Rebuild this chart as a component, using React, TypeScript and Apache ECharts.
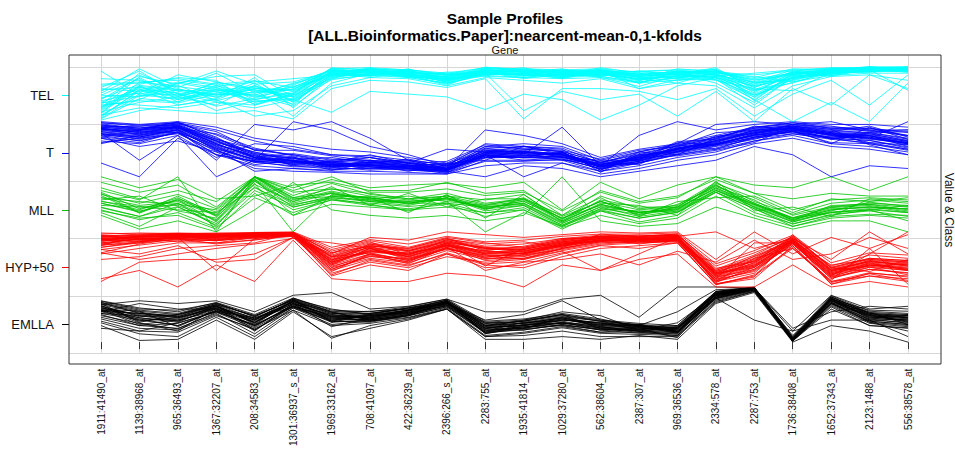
import React, { useEffect, useRef } from 'react';
import * as echarts from 'echarts';

// Gene probes along the x axis
const genes = [
  '1911:41490_at', '1139:38968_at', '965:36493_at', '1367:32207_at', '208:34583_at',
  '1301:36937_s_at', '1969:33162_at', '708:41097_at', '422:36239_at', '2396:266_s_at',
  '2283:755_at', '1935:41814_at', '1029:37280_at', '562:38604_at', '2387:307_at',
  '969:36536_at', '2334:578_at', '2287:753_at', '1736:38408_at', '1652:37343_at',
  '2123:1488_at', '556:38578_at',
];

// Classes from bottom panel to top panel
const classes = ['EMLLA', 'HYP+50', 'MLL', 'T', 'TEL'];
const classColors = ['#000000', '#ff0000', '#00c400', '#0000ff', '#00ffff'];

// Scaled expression profiles (0..100 within each class band)
const emllaProfiles = [
  [65, 48, 45, 62, 40, 74, 50, 45, 58, 72, 30, 34, 44, 32, 30, 22, 88, 98, 5, 80, 48, 42],
  [55, 42, 30, 58, 28, 68, 40, 48, 52, 66, 18, 26, 36, 28, 20, 25, 82, 96, 3, 72, 40, 36],
  [72, 58, 52, 70, 48, 76, 56, 52, 62, 76, 34, 38, 48, 38, 32, 18, 90, 99, 8, 78, 52, 48],
  [50, 30, 34, 55, 32, 64, 36, 40, 48, 68, 22, 22, 32, 22, 24, 28, 80, 95, 2, 70, 38, 32],
  [75, 62, 55, 72, 50, 80, 58, 55, 64, 78, 38, 42, 52, 42, 28, 30, 92, 100, 10, 84, 56, 52],
  [42, 25, 22, 50, 22, 62, 32, 38, 45, 62, 12, 18, 28, 18, 18, 12, 76, 93, 2, 66, 34, 28],
  [30, 3, 5, 40, 5, 55, 10, 25, 40, 60, 5, 5, 10, 5, 12, 5, 70, 90, 0, 30, 20, 0],
  [62, 50, 40, 65, 36, 70, 48, 44, 56, 72, 28, 30, 40, 35, 22, 24, 86, 97, 6, 76, 46, 40],
  [68, 75, 70, 75, 55, 85, 90, 60, 65, 78, 55, 55, 78, 85, 45, 100, 100, 98, 20, 85, 60, 65],
  [58, 44, 38, 60, 38, 70, 42, 42, 54, 70, 25, 32, 42, 28, 26, 20, 84, 97, 4, 74, 44, 38],
  [72, 52, 48, 68, 42, 74, 52, 48, 58, 72, 30, 34, 44, 34, 28, 24, 88, 98, 6, 78, 50, 44],
  [45, 30, 25, 52, 15, 62, 38, 38, 48, 64, 18, 22, 32, 22, 16, 16, 78, 94, 3, 70, 38, 32],
  [35, 15, 10, 45, 10, 58, 7, 30, 42, 60, 10, 12, 20, 10, 10, 10, 72, 92, 2, 60, 30, 25],
  [64, 38, 44, 64, 44, 72, 46, 50, 58, 74, 24, 36, 46, 30, 32, 26, 86, 97, 5, 80, 50, 46],
  [52, 40, 30, 56, 30, 66, 44, 40, 50, 66, 20, 28, 34, 26, 20, 14, 81, 96, 4, 70, 42, 34],
  [74, 60, 58, 71, 46, 78, 54, 56, 60, 76, 36, 40, 50, 40, 34, 30, 91, 99, 8, 82, 54, 50],
  [55, 70, 60, 60, 40, 80, 55, 40, 50, 70, 40, 50, 75, 40, 30, 55, 95, 98, 25, 55, 65, 60],
  [66, 46, 50, 66, 34, 74, 46, 46, 58, 72, 26, 30, 40, 36, 28, 20, 87, 98, 6, 76, 48, 44],
  [48, 34, 24, 54, 26, 64, 38, 36, 48, 64, 16, 24, 30, 24, 18, 18, 79, 95, 3, 68, 36, 30],
  [38, 20, 18, 48, 24, 58, 30, 34, 44, 60, 10, 16, 26, 16, 14, 12, 74, 92, 2, 64, 30, 26],
  [70, 56, 50, 68, 48, 76, 52, 52, 62, 74, 32, 38, 50, 38, 30, 26, 89, 99, 7, 82, 52, 48],
  [25, 20, 35, 55, 30, 65, 40, 42, 52, 68, 22, 25, 35, 25, 20, 18, 80, 40, 20, 40, 40, 10],
  [60, 35, 20, 62, 20, 70, 28, 44, 56, 72, 15, 28, 30, 18, 24, 8, 84, 96, 2, 72, 36, 20],
  [58, 52, 46, 66, 35, 78, 60, 50, 54, 74, 28, 40, 55, 48, 22, 35, 86, 97, 12, 78, 58, 56],
  [62, 44, 36, 64, 42, 72, 44, 46, 56, 70, 26, 30, 42, 30, 26, 22, 86, 97, 4, 76, 46, 40],
  [56, 52, 44, 60, 30, 68, 50, 42, 52, 74, 20, 36, 38, 26, 30, 18, 82, 96, 6, 72, 50, 36],
  [70, 36, 50, 70, 46, 78, 38, 52, 60, 68, 34, 24, 46, 38, 22, 28, 90, 99, 2, 80, 42, 48],
  [60, 56, 28, 58, 36, 74, 54, 40, 50, 72, 18, 32, 34, 32, 28, 16, 84, 97, 8, 74, 54, 32],
  [66, 40, 42, 66, 22, 66, 42, 48, 58, 76, 30, 38, 50, 24, 24, 26, 88, 98, 3, 78, 44, 50],
  [52, 48, 38, 62, 40, 70, 48, 44, 54, 66, 24, 26, 40, 34, 32, 20, 80, 95, 5, 70, 48, 38],
  [68, 54, 46, 68, 32, 76, 36, 50, 62, 70, 36, 34, 44, 28, 20, 24, 92, 99, 1, 82, 52, 44],
  [58, 32, 40, 56, 44, 64, 46, 38, 48, 74, 16, 30, 36, 22, 26, 18, 84, 96, 7, 76, 40, 42],
];

const hypProfiles = [
  [85, 92, 90, 94, 95, 97, 52, 72, 58, 80, 62, 68, 82, 88, 86, 92, 22, 48, 88, 28, 48, 38],
  [72, 80, 92, 85, 88, 94, 38, 55, 52, 68, 58, 50, 70, 84, 90, 84, 12, 30, 78, 18, 32, 25],
  [92, 96, 98, 96, 98, 99, 62, 80, 70, 88, 74, 78, 88, 94, 92, 96, 32, 58, 92, 35, 52, 48],
  [68, 76, 84, 80, 90, 92, 28, 60, 42, 72, 48, 52, 66, 78, 82, 86, 8, 36, 75, 10, 26, 18],
  [10, 45, 50, 50, 60, 90, 30, 50, 40, 60, 35, 40, 60, 75, 70, 80, 5, 20, 70, 10, 20, 15],
  [96, 98, 97, 98, 99, 100, 72, 86, 78, 92, 82, 85, 92, 96, 96, 98, 42, 66, 94, 44, 62, 58],
  [15, 30, 0, 40, 10, 85, 15, 10, 10, 25, 20, 0, 40, 30, 50, 60, 0, 0, 40, 0, 10, 0],
  [80, 88, 94, 86, 92, 96, 45, 66, 60, 76, 65, 60, 74, 86, 84, 88, 18, 40, 82, 24, 40, 32],
  [78, 84, 88, 90, 94, 93, 55, 62, 48, 70, 54, 62, 78, 82, 88, 84, 25, 35, 86, 30, 38, 42],
  [60, 70, 80, 80, 85, 95, 20, 40, 30, 60, 40, 35, 55, 70, 75, 80, 5, 15, 75, 5, 20, 10],
  [88, 92, 94, 93, 96, 98, 55, 75, 65, 82, 70, 68, 82, 90, 90, 92, 100, 70, 88, 50, 100, 60],
  [68, 60, 75, 45, 50, 90, 60, 90, 85, 100, 95, 90, 95, 100, 98, 100, 50, 100, 60, 90, 70, 95],
  [92, 88, 82, 92, 94, 96, 25, 45, 35, 55, 45, 50, 65, 30, 60, 90, 10, 25, 86, 5, 25, 20],
  [72, 82, 90, 30, 88, 95, 40, 60, 48, 70, 52, 55, 70, 82, 82, 85, 15, 80, 80, 20, 60, 100],
  [50, 55, 70, 75, 80, 98, 45, 65, 55, 75, 60, 60, 75, 85, 85, 87, 30, 55, 82, 40, 50, 45],
  [84, 86, 92, 88, 93, 97, 48, 78, 66, 84, 70, 64, 80, 88, 85, 90, 28, 46, 84, 22, 44, 30],
  [76, 82, 86, 84, 91, 94, 35, 52, 44, 66, 50, 58, 68, 80, 84, 82, 14, 28, 80, 15, 36, 22],
  [98, 96, 96, 97, 97, 99, 68, 84, 72, 90, 80, 72, 86, 92, 94, 94, 38, 62, 90, 38, 58, 52],
  [62, 78, 88, 78, 86, 92, 22, 48, 38, 62, 42, 46, 62, 76, 80, 82, 4, 22, 72, 8, 24, 12],
  [88, 90, 95, 90, 96, 96, 50, 70, 55, 78, 60, 66, 76, 88, 86, 90, 20, 44, 86, 32, 46, 40],
  [62, 50, 60, 70, 78, 88, 80, 70, 50, 72, 30, 45, 50, 60, 40, 65, 45, 85, 50, 60, 90, 70],
  [86, 88, 90, 92, 92, 95, 42, 64, 62, 74, 66, 60, 78, 84, 88, 88, 24, 38, 84, 26, 42, 34],
  [94, 85, 88, 84, 99, 98, 32, 58, 45, 80, 38, 70, 84, 92, 78, 86, 10, 52, 70, 12, 70, 5],
  [75, 94, 96, 95, 90, 97, 65, 82, 58, 86, 78, 82, 72, 96, 92, 94, 6, 18, 95, 35, 28, 50],
  [86, 90, 94, 92, 95, 97, 44, 68, 56, 78, 62, 62, 78, 88, 86, 90, 20, 42, 84, 26, 42, 36],
  [90, 94, 96, 94, 97, 98, 56, 76, 66, 84, 70, 70, 84, 92, 90, 94, 28, 50, 88, 32, 48, 44],
  [80, 86, 90, 88, 92, 95, 36, 60, 50, 72, 56, 58, 74, 84, 84, 88, 14, 36, 80, 20, 36, 30],
  [94, 92, 97, 96, 98, 99, 62, 74, 70, 88, 66, 74, 88, 90, 92, 96, 34, 46, 92, 36, 52, 48],
  [78, 88, 88, 86, 92, 94, 40, 70, 52, 74, 58, 56, 72, 86, 82, 86, 16, 38, 80, 22, 38, 30],
  [88, 82, 94, 92, 96, 97, 50, 62, 62, 80, 72, 66, 80, 84, 88, 92, 24, 56, 86, 30, 46, 40],
  [82, 92, 92, 90, 94, 96, 46, 74, 54, 76, 60, 60, 76, 92, 86, 90, 18, 32, 82, 24, 40, 34],
  [92, 94, 96, 95, 97, 98, 58, 78, 68, 86, 72, 72, 86, 92, 92, 94, 30, 52, 90, 34, 50, 46],
  [76, 80, 86, 84, 90, 93, 32, 56, 46, 70, 52, 52, 70, 82, 80, 84, 10, 32, 78, 16, 32, 26],
  [86, 90, 92, 92, 95, 96, 48, 66, 58, 80, 64, 64, 80, 88, 88, 92, 22, 44, 84, 28, 44, 38],
  [84, 86, 92, 90, 94, 96, 42, 70, 60, 76, 54, 62, 76, 86, 84, 88, 26, 40, 82, 18, 40, 32],
  [90, 92, 94, 94, 96, 98, 54, 72, 64, 82, 68, 68, 82, 90, 90, 92, 26, 48, 86, 30, 46, 42],
];

const mllProfiles = [
  [62, 48, 55, 30, 100, 62, 70, 60, 65, 55, 48, 62, 28, 55, 32, 50, 82, 58, 20, 48, 50, 40],
  [45, 28, 52, 10, 92, 45, 62, 55, 48, 62, 42, 48, 12, 42, 38, 36, 75, 50, 25, 35, 40, 48],
  [75, 58, 100, 0, 100, 72, 78, 70, 60, 65, 58, 68, 22, 65, 42, 48, 90, 55, 32, 52, 58, 52],
  [40, 22, 35, 8, 62, 35, 58, 48, 42, 50, 28, 40, 5, 38, 18, 30, 72, 42, 10, 28, 32, 30],
  [90, 72, 85, 45, 100, 80, 100, 72, 72, 78, 66, 72, 38, 72, 52, 62, 100, 70, 40, 58, 62, 58],
  [52, 36, 58, 18, 88, 0, 68, 62, 52, 60, 44, 52, 18, 50, 35, 44, 78, 48, 22, 40, 46, 36],
  [35, 10, 45, 15, 75, 45, 60, 50, 38, 55, 0, 35, 10, 40, 25, 35, 72, 35, 15, 30, 40, 20],
  [68, 52, 68, 42, 100, 66, 88, 68, 60, 70, 52, 60, 20, 58, 45, 45, 88, 62, 30, 46, 52, 48],
  [56, 40, 62, 28, 86, 55, 72, 58, 55, 62, 48, 55, 25, 48, 35, 42, 80, 50, 24, 42, 44, 42],
  [30, 5, 20, 0, 40, 90, 40, 30, 25, 30, 20, 30, 100, 20, 10, 15, 45, 25, 5, 20, 20, 0],
  [80, 60, 75, 55, 100, 75, 95, 80, 85, 88, 80, 90, 40, 90, 60, 85, 100, 85, 80, 100, 75, 100],
  [48, 45, 40, 35, 80, 48, 65, 55, 52, 52, 45, 50, 15, 45, 28, 38, 75, 45, 18, 35, 40, 35],
  [70, 35, 65, 30, 100, 62, 78, 65, 58, 65, 50, 58, 25, 55, 40, 45, 85, 52, 25, 45, 50, 45],
  [38, 25, 30, 5, 70, 30, 50, 45, 40, 45, 35, 40, 8, 30, 15, 25, 65, 30, 10, 25, 30, 25],
  [62, 55, 50, 40, 95, 58, 74, 60, 56, 60, 42, 56, 20, 50, 35, 42, 80, 50, 22, 40, 45, 42],
  [100, 80, 95, 60, 65, 85, 90, 75, 75, 90, 70, 75, 30, 75, 55, 65, 95, 70, 60, 70, 65, 65],
  [52, 38, 52, 20, 92, 50, 62, 58, 52, 62, 38, 48, 12, 42, 32, 40, 76, 46, 20, 36, 42, 35],
  [44, 28, 46, 12, 82, 40, 58, 52, 46, 52, 34, 44, 10, 38, 25, 36, 72, 42, 14, 32, 38, 28],
  [58, 65, 38, 25, 100, 55, 82, 48, 70, 45, 60, 60, 30, 62, 28, 55, 62, 65, 35, 60, 55, 62],
  [72, 42, 58, 32, 96, 30, 66, 62, 35, 68, 25, 68, 18, 52, 48, 30, 92, 38, 45, 28, 60, 55],
  [55, 46, 48, 22, 94, 52, 70, 56, 54, 58, 46, 52, 16, 46, 36, 40, 84, 52, 26, 44, 48, 38],
  [66, 34, 60, 36, 98, 60, 64, 64, 50, 66, 40, 60, 24, 56, 30, 46, 86, 44, 18, 38, 54, 46],
];

const tProfiles = [
  [85, 78, 92, 62, 45, 28, 22, 18, 12, 10, 45, 48, 40, 18, 28, 52, 62, 85, 90, 80, 70, 60],
  [96, 88, 98, 72, 35, 42, 32, 30, 25, 20, 38, 35, 45, 12, 38, 46, 74, 78, 95, 88, 88, 75],
  [70, 62, 82, 40, 28, 18, 18, 12, 15, 6, 52, 42, 30, 25, 22, 58, 50, 72, 82, 62, 60, 48],
  [92, 90, 88, 78, 52, 38, 25, 35, 20, 24, 30, 55, 50, 8, 45, 40, 70, 90, 98, 92, 82, 85],
  [78, 72, 86, 48, 22, 30, 12, 25, 28, 12, 40, 30, 35, 30, 30, 62, 58, 70, 78, 70, 75, 55],
  [25, 0, 70, 40, 20, 15, 10, 10, 8, 5, 30, 30, 30, 10, 20, 35, 45, 65, 75, 60, 55, 45],
  [80, 30, 75, 0, 30, 100, 85, 55, 40, 20, 60, 55, 45, 12, 40, 45, 60, 75, 85, 70, 60, 50],
  [100, 95, 100, 90, 70, 60, 50, 45, 35, 25, 55, 60, 55, 30, 45, 60, 75, 90, 95, 90, 88, 80],
  [60, 75, 85, 30, 95, 85, 100, 70, 30, 15, 45, 40, 90, 20, 75, 100, 85, 95, 100, 95, 95, 90],
  [88, 82, 80, 58, 38, 22, 28, 20, 18, 18, 48, 45, 38, 22, 32, 50, 66, 82, 88, 75, 68, 62],
  [70, 55, 65, 45, 15, 10, 8, 5, 5, 5, 20, 25, 25, 5, 15, 30, 40, 60, 70, 55, 50, 40],
  [82, 72, 85, 50, 10, 15, 12, 18, 15, 10, 0, 20, 15, 0, 10, 20, 30, 55, 40, 0, 20, 15],
  [94, 86, 96, 82, 48, 48, 38, 28, 30, 15, 55, 52, 48, 32, 48, 55, 72, 88, 92, 82, 92, 72],
  [78, 68, 82, 52, 32, 28, 24, 25, 22, 15, 85, 75, 60, 35, 50, 60, 95, 100, 95, 100, 85, 75],
  [86, 84, 90, 65, 40, 34, 20, 22, 10, 22, 35, 46, 36, 20, 25, 42, 55, 68, 85, 78, 62, 58],
  [65, 60, 75, 35, 60, 55, 40, 35, 25, 12, 35, 35, 32, 15, 25, 40, 50, 65, 78, 68, 62, 50],
  [90, 92, 98, 85, 65, 50, 40, 38, 30, 22, 52, 55, 52, 25, 45, 58, 72, 88, 98, 88, 85, 85],
  [75, 65, 80, 40, 28, 25, 30, 35, 25, 50, 45, 45, 42, 22, 38, 50, 65, 80, 88, 78, 75, 60],
  [82, 76, 90, 55, 30, 36, 18, 30, 14, 12, 42, 38, 44, 18, 36, 52, 60, 76, 80, 72, 78, 65],
  [72, 85, 92, 65, 35, 22, 18, 20, 16, 12, 38, 36, 36, 18, 30, 45, 58, 72, 83, 72, 70, 100],
  [88, 80, 90, 60, 35, 28, 22, 20, 18, 14, 40, 0, 25, 10, 25, 40, 52, 70, 82, 70, 66, 52],
  [98, 92, 94, 68, 50, 40, 26, 40, 24, 28, 58, 50, 46, 26, 42, 56, 80, 84, 88, 68, 80, 82],
  [62, 70, 78, 48, 26, 20, 14, 15, 20, 8, 28, 28, 32, 15, 35, 38, 48, 62, 92, 86, 58, 40],
  [90, 85, 100, 70, 42, 32, 35, 25, 32, 20, 44, 56, 40, 22, 32, 64, 68, 92, 84, 60, 90, 68],
  [88, 80, 92, 60, 36, 30, 20, 22, 16, 12, 42, 42, 40, 18, 32, 50, 62, 80, 88, 78, 74, 62],
  [80, 74, 88, 52, 28, 24, 26, 18, 14, 10, 36, 38, 44, 16, 28, 46, 58, 76, 86, 74, 70, 58],
  [94, 88, 96, 68, 44, 36, 16, 28, 22, 16, 48, 46, 36, 22, 36, 54, 68, 84, 92, 82, 80, 70],
  [76, 70, 84, 50, 32, 26, 22, 24, 18, 14, 40, 34, 38, 28, 30, 48, 60, 74, 84, 76, 72, 60],
  [90, 84, 94, 64, 40, 20, 28, 26, 20, 16, 44, 44, 42, 24, 34, 52, 64, 82, 90, 80, 78, 66],
  [84, 78, 90, 56, 34, 28, 18, 20, 26, 12, 38, 40, 36, 18, 40, 48, 58, 78, 88, 76, 70, 62],
  [98, 94, 98, 76, 48, 40, 30, 30, 24, 18, 50, 50, 46, 26, 40, 56, 70, 86, 94, 86, 84, 74],
  [72, 66, 80, 46, 26, 34, 14, 16, 12, 8, 34, 36, 34, 14, 26, 44, 56, 72, 82, 70, 66, 54],
  [86, 82, 92, 58, 38, 30, 24, 14, 18, 14, 42, 44, 40, 20, 34, 50, 64, 80, 90, 80, 76, 64],
  [92, 86, 94, 66, 42, 34, 26, 22, 20, 24, 46, 46, 42, 22, 36, 52, 66, 84, 92, 84, 80, 68],
  [78, 72, 86, 54, 30, 26, 20, 22, 16, 12, 38, 38, 36, 18, 28, 46, 58, 76, 86, 76, 72, 60],
  [88, 76, 88, 60, 34, 30, 22, 26, 20, 14, 40, 42, 40, 20, 32, 50, 60, 78, 88, 78, 74, 64],
];

const telProfiles = [
  [22, 62, 48, 70, 40, 55, 88, 93, 85, 82, 94, 90, 82, 90, 75, 86, 80, 55, 85, 92, 96, 97],
  [48, 78, 40, 52, 62, 38, 82, 86, 92, 76, 88, 95, 88, 84, 88, 78, 92, 70, 78, 86, 94, 90],
  [12, 50, 66, 38, 55, 62, 94, 90, 80, 70, 92, 82, 94, 88, 70, 90, 76, 40, 88, 95, 98, 95],
  [60, 55, 72, 62, 35, 48, 78, 96, 88, 86, 85, 88, 78, 94, 82, 74, 88, 82, 72, 88, 90, 99],
  [30, 88, 55, 45, 70, 30, 92, 84, 94, 74, 97, 92, 90, 80, 64, 84, 95, 62, 92, 82, 97, 93],
  [5, 42, 36, 58, 48, 70, 86, 92, 82, 90, 90, 78, 86, 92, 90, 88, 70, 35, 80, 94, 92, 96],
  [42, 68, 80, 75, 30, 52, 97, 88, 90, 80, 84, 96, 92, 86, 78, 70, 90, 75, 86, 90, 99, 92],
  [18, 35, 45, 30, 65, 44, 80, 94, 86, 72, 96, 86, 80, 96, 84, 92, 84, 48, 76, 97, 95, 98],
  [55, 96, 62, 88, 52, 58, 90, 82, 95, 84, 90, 90, 96, 82, 72, 80, 82, 88, 94, 88, 93, 94],
  [35, 60, 30, 42, 80, 25, 84, 98, 84, 68, 88, 84, 84, 90, 86, 86, 98, 58, 70, 92, 100, 91],
  [68, 72, 75, 66, 45, 66, 95, 90, 88, 88, 98, 94, 88, 88, 92, 94, 86, 68, 90, 86, 96, 97],
  [8, 58, 52, 20, 38, 40, 76, 86, 92, 78, 82, 80, 90, 94, 60, 76, 78, 30, 82, 90, 91, 95],
  [92, 48, 42, 55, 58, 10, 70, 88, 86, 72, 88, 20, 55, 40, 50, 10, 55, 0, 60, 30, 85, 60],
  [35, 30, 25, 35, 25, 40, 17, 55, 50, 45, 22, 50, 40, 3, 30, 65, 80, 40, 0, 35, 0, 70],
  [25, 82, 68, 92, 68, 72, 92, 92, 80, 82, 92, 98, 82, 92, 80, 82, 92, 80, 96, 94, 98, 100],
  [48, 45, 58, 48, 75, 35, 86, 86, 96, 70, 86, 88, 94, 86, 74, 90, 88, 45, 84, 84, 94, 93],
  [15, 65, 36, 60, 32, 50, 98, 94, 88, 76, 95, 84, 86, 98, 88, 78, 80, 65, 78, 96, 97, 96],
  [12, 25, 20, 15, 20, 5, 60, 75, 72, 62, 78, 5, 60, 60, 55, 40, 60, 10, 50, 75, 30, 85],
  [38, 52, 85, 72, 60, 56, 88, 80, 90, 84, 90, 92, 80, 84, 82, 88, 92, 52, 90, 90, 92, 92],
  [3, 20, 30, 40, 10, 20, 65, 80, 78, 65, 80, 75, 70, 78, 60, 70, 65, 25, 65, 82, 85, 75],
  [62, 92, 50, 28, 42, 64, 82, 92, 84, 66, 93, 90, 92, 90, 70, 92, 84, 72, 74, 92, 99, 98],
  [28, 40, 70, 82, 85, 45, 90, 96, 94, 88, 86, 86, 86, 82, 92, 84, 96, 38, 88, 86, 95, 90],
  [78, 75, 58, 50, 50, 32, 93, 90, 86, 78, 99, 94, 84, 92, 76, 96, 90, 85, 92, 98, 96, 99],
  [20, 58, 46, 64, 72, 78, 84, 84, 82, 74, 90, 80, 88, 88, 84, 86, 75, 60, 56, 90, 94, 57],
  [26, 66, 58, 48, 58, 45, 90, 94, 90, 80, 92, 92, 90, 90, 82, 88, 88, 62, 86, 93, 97, 96],
  [44, 52, 40, 62, 44, 60, 86, 90, 86, 76, 90, 86, 84, 86, 78, 82, 82, 50, 80, 88, 93, 94],
  [16, 72, 64, 54, 40, 52, 92, 96, 92, 84, 96, 94, 92, 94, 86, 90, 92, 70, 90, 96, 99, 98],
  [58, 62, 52, 40, 66, 36, 80, 88, 82, 78, 86, 88, 86, 82, 72, 80, 86, 56, 76, 90, 92, 92],
  [34, 46, 70, 58, 52, 68, 94, 92, 88, 82, 94, 90, 88, 92, 84, 92, 90, 78, 88, 94, 96, 95],
  [10, 56, 44, 66, 36, 42, 84, 86, 84, 74, 88, 84, 80, 88, 76, 84, 80, 44, 82, 88, 90, 93],
  [52, 84, 60, 44, 60, 58, 96, 98, 94, 86, 98, 96, 94, 96, 90, 94, 94, 72, 94, 97, 99, 99],
  [30, 38, 34, 50, 48, 28, 78, 84, 80, 70, 84, 80, 78, 80, 70, 76, 76, 48, 72, 84, 88, 88],
  [66, 70, 78, 68, 74, 62, 92, 90, 90, 86, 92, 92, 90, 92, 86, 90, 92, 66, 88, 94, 98, 97],
  [6, 48, 50, 36, 30, 48, 88, 92, 86, 78, 90, 86, 86, 90, 80, 86, 84, 58, 84, 92, 94, 94],
  [40, 80, 46, 72, 56, 50, 90, 95, 92, 80, 94, 90, 90, 94, 82, 88, 90, 76, 86, 95, 97, 96],
  [24, 64, 56, 56, 64, 40, 86, 88, 84, 76, 88, 88, 82, 86, 78, 82, 86, 64, 80, 90, 92, 95],
];

const profilesByClass = [emllaProfiles, hypProfiles, mllProfiles, tProfiles, telProfiles];

// Layout (px)
const W = 955;
const H = 449;
const BOX = { left: 69, right: 14, top: 55, bottom: 85 };
const PANELS = { left: 69, right: 14, top: 67, bottom: 96 };
const DATA = { left: 101, right: 47, top: 55, bottom: 85 };
const PX_PER_UNIT = (H - PANELS.top - PANELS.bottom) / classes.length;
const DATA_MIN = -((H - DATA.bottom) - (H - PANELS.bottom)) / PX_PER_UNIT;
const DATA_MAX = classes.length + (PANELS.top - DATA.top) / PX_PER_UNIT;

const FONT = '"Liberation Sans", Arial, sans-serif';
const GRID_COLOR = '#d6d6d6';
const FRAME_COLOR = '#333333';

// Class label sits in the middle of each band
const classCenters = classes.map((_, i) => i + 0.5);

function buildOption(): echarts.EChartsOption {
  const series: any[] = [];
  profilesByClass.forEach((profiles, ci) => {
    profiles.forEach((p, pi) => {
      series.push({
        name: `${classes[ci]}-${pi + 1}`,
        type: 'line',
        xAxisIndex: 1,
        yAxisIndex: 1,
        data: p.map((v) => ci + v / 100),
        symbol: 'none',
        silent: true,
        lineStyle: { color: classColors[ci], width: 1, opacity: 0.8 },
        z: 3,
      });
    });
  });

  // one axis per class that draws only that class's coloured tick
  const tickAxes = classes.map((_, k) => ({
    type: 'value',
    gridIndex: 0,
    position: 'left',
    offset: 0,
    min: 0,
    max: classes.length,
    interval: 1,
    axisLine: { show: false },
    axisLabel: { show: false },
    splitLine: { show: false },
    axisTick: {
      show: true,
      length: 7,
      customValues: [classCenters[k]],
      lineStyle: { color: classColors[k], width: 1 },
    },
  }));

  return {
    animation: false,
    backgroundColor: '#ffffff',
    textStyle: { fontFamily: FONT },
    grid: [
      { ...PANELS },
      { ...DATA },
    ],
    xAxis: [
      { type: 'value', gridIndex: 0, show: false, min: 0, max: 1 },
      {
        type: 'category',
        gridIndex: 1,
        data: genes,
        boundaryGap: false,
        axisLine: { show: false },
        axisTick: { show: true, length: 7, lineStyle: { color: FRAME_COLOR } },
        axisLabel: {
          rotate: 90,
          fontSize: 10,
          color: '#111',
          margin: 16,
          interval: 0,
          fontFamily: FONT,
        },
        splitLine: { show: true, interval: 0, lineStyle: { color: GRID_COLOR, width: 1 } },
      },
    ],
    yAxis: [
      {
        type: 'value',
        gridIndex: 0,
        position: 'left',
        offset: 0,
        min: 0,
        max: classes.length,
        interval: 1,
        axisLine: { show: false },
        axisTick: { show: false },
        axisLabel: {
          customValues: classCenters,
          formatter: (v: number) => classes[Math.floor(v)] ?? '',
          fontSize: 13,
          color: '#111',
          margin: 15,
          fontFamily: FONT,
        },
        splitLine: { show: true, lineStyle: { color: GRID_COLOR, width: 1 } },
      },
      {
        type: 'value',
        gridIndex: 1,
        min: DATA_MIN,
        max: DATA_MAX,
        show: false,
        splitLine: { show: false },
      },
      ...tickAxes,
    ] as any,
    graphic: [
      {
        type: 'rect',
        silent: true,
        z: 100,
        shape: { x: BOX.left, y: BOX.top, width: W - BOX.left - BOX.right, height: H - BOX.top - BOX.bottom },
        style: { fill: 'none', stroke: FRAME_COLOR, lineWidth: 1 },
      },
      {
        type: 'text',
        x: 505,
        y: 18,
        style: {
          text: 'Sample Profiles',
          font: `bold 15.5px ${FONT}`,
          fill: '#000',
          align: 'center',
          verticalAlign: 'middle',
        },
      },
      {
        type: 'text',
        x: 505,
        y: 35,
        style: {
          text: '[ALL.Bioinformatics.Paper]:nearcent-mean-0,1-kfolds',
          font: `bold 15.5px ${FONT}`,
          fill: '#000',
          align: 'center',
          verticalAlign: 'middle',
        },
      },
      {
        type: 'text',
        x: 505,
        y: 50,
        style: {
          text: 'Gene',
          font: `11px ${FONT}`,
          fill: '#111',
          align: 'center',
          verticalAlign: 'middle',
        },
      },
      {
        type: 'text',
        x: 949,
        y: 210,
        rotation: -Math.PI / 2,
        style: {
          text: 'Value & Class',
          font: `12px ${FONT}`,
          fill: '#111',
          align: 'center',
          verticalAlign: 'middle',
        },
      },
    ],
    series,
  } as any;
}

export default function App() {
  const ref = useRef<HTMLDivElement>(null);
  useEffect(() => {
    if (!ref.current) return;
    const chart = echarts.init(ref.current, null, { renderer: 'svg' });
    chart.setOption(buildOption());
    return () => chart.dispose();
  }, []);
  return (
    <div
      ref={ref}
      style={{ position: 'absolute', left: 0, top: 0, width: W, height: H, background: '#fff' }}
    />
  );
}
